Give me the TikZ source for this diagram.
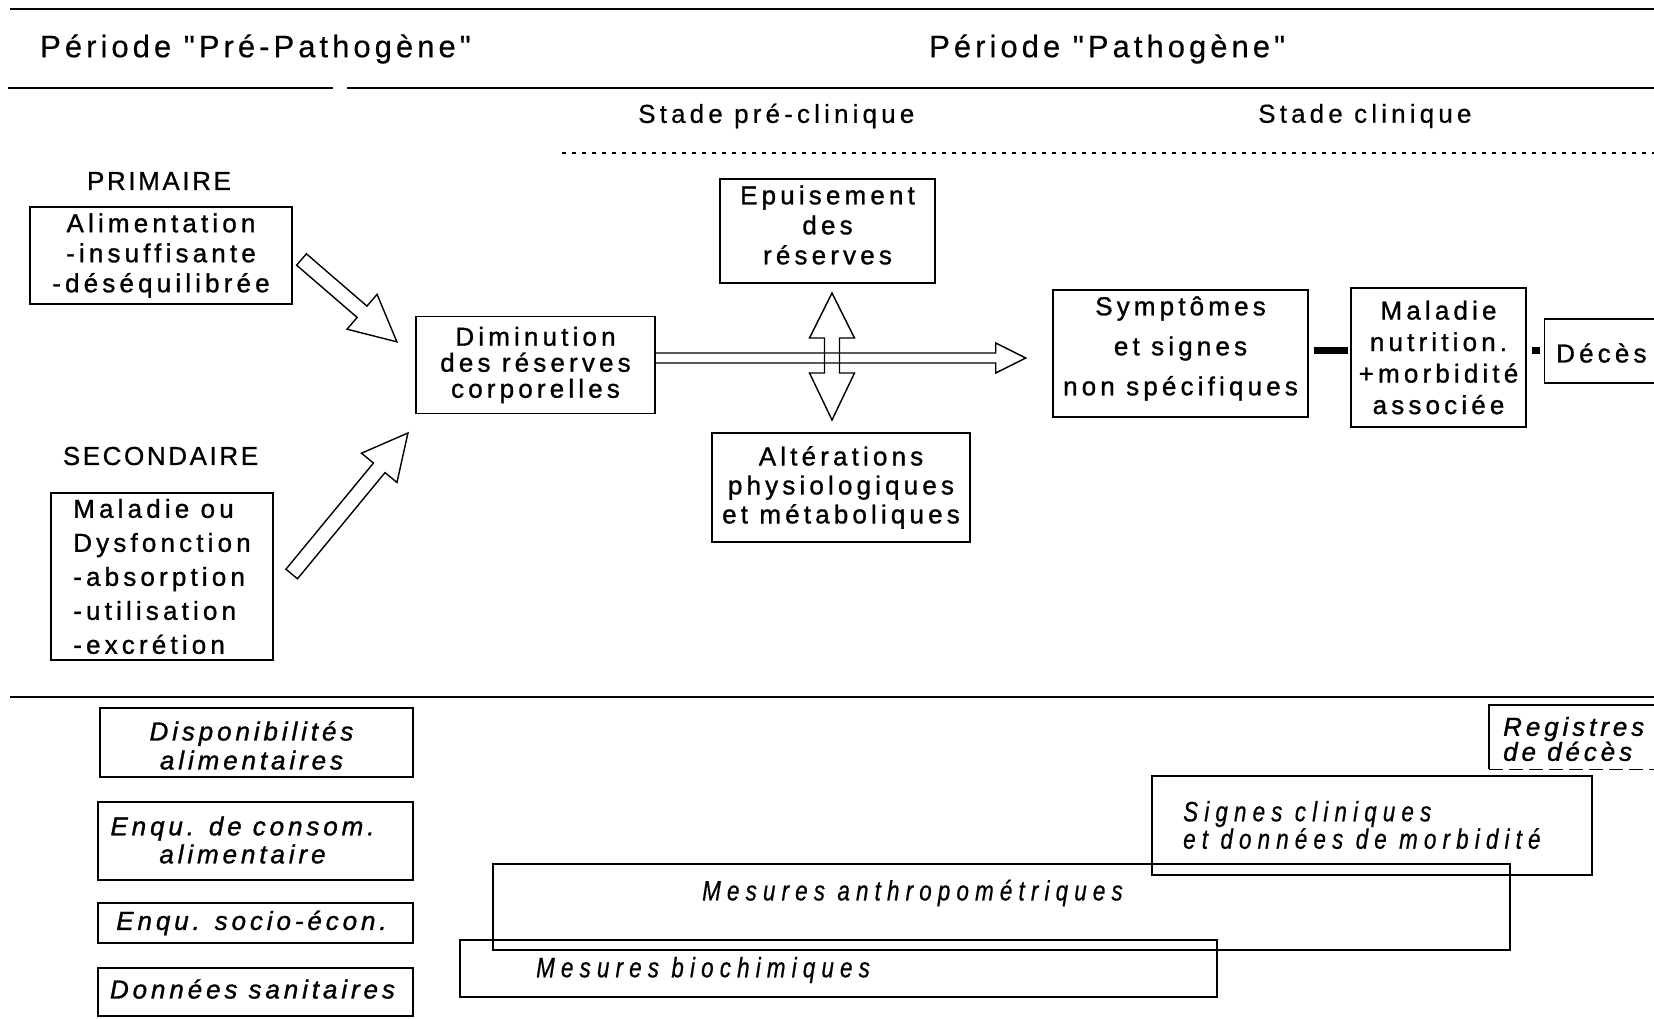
\documentclass[tikz,border=0pt]{standalone}
\usepackage{fontspec}
\setmainfont{Liberation Sans}
\newfontfamily\bxf[LetterSpace=16, FakeBold=1.1]{Liberation Sans}
\newfontfamily\itf[LetterSpace=15, FakeBold=1.2]{Liberation Sans}
\newfontfamily\capf[LetterSpace=10, FakeBold=0.8]{Liberation Sans}
\newfontfamily\hdf[LetterSpace=13, FakeBold=0.4]{Liberation Sans}
\newfontfamily\stf[LetterSpace=16, FakeBold=0.5]{Liberation Sans}
\newfontfamily\cif[LetterSpace=22, FakeStretch=0.8, FakeBold=0.6]{Liberation Sans}
\usetikzlibrary{calc}
\begin{document}
\begin{tikzpicture}[x=1pt,y=-1pt,
  box/.style={draw, line width=1.4pt, inner sep=0pt, align=center},
  bt/.style={font=\bxf\fontsize{26}{#1}\selectfont, align=center},
  bt/.default=30,
  it/.style={font=\itf\itshape\fontsize{26}{#1}\selectfont, align=center},
  it/.default=30,
  ci/.style={font=\cif\itshape\fontsize{28}{#1}\selectfont, inner sep=0pt},
  ci/.default=26,
  hd/.style={font=\hdf\fontsize{31}{36}\selectfont, inner sep=0pt},
  st/.style={font=\stf\fontsize{26}{30}\selectfont, inner sep=0pt},
  capt/.style={font=\capf\fontsize{26}{30}\selectfont, inner sep=0pt},
  hline/.style={line width=2pt},
  dotl/.style={line width=1.3pt, dash pattern=on 4pt off 6pt},
  blk/.style={line width=1.4pt, line join=miter},
  bar/.style={line width=7pt}]
\useasboundingbox (0,0) rectangle (1654,1018);
\fill[white] (0,0) rectangle (1654,1018);
\clip (0,0) rectangle (1654,1018);

% header lines and titles
\draw[hline] (10,9) -- (1654,9);
\node[hd, anchor=west] (hdpre) at (40,49) {Période "Pré-Pathogène"};
\node[hd, anchor=west] (hdpath) at (929,49) {Période "Pathogène"};
\draw[hline] (8,88) -- (333,88);
\draw[hline] (347,88) -- (1654,88);
\node[st, anchor=west] (stpre) at (638,116) {Stade pré-clinique};
\node[st, anchor=west] (stcli) at (1258,116) {Stade clinique};
\draw[dotl] (562,153) -- (1654,153);

% causes
\node[capt] (prim) at (159,181) {PRIMAIRE};
\node[box, bt, minimum width=262, minimum height=97] (alim) at (161,255.5)
  {Alimentation\\-insuffisante\\-déséquilibrée};
\node[capt] (second) at (160.5,456) {SECONDAIRE};
\node[box, bt=34, align=left, minimum width=222, minimum height=167] (malou) at (162,576.5)
  {Maladie ou\\Dysfonction\\-absorption\\-utilisation\\-excrétion};

\node[box, bt=26, minimum width=239, minimum height=97] (dimin) at (535.5,365)
  {Diminution\\des réserves\\corporelles};
\node[box, minimum width=215, minimum height=104] (epuis) at (827.5,231) {};
\node[bt=30, inner sep=0pt] (epuistxt) at ($(epuis)+(0,-6)$) {Epuisement\\des\\réserves};
\node[box, bt=29, minimum width=258, minimum height=109] (alter) at (841,487.5)
  {Altérations\\physiologiques\\et métaboliques};
\node[box, minimum width=255, minimum height=127] (sympt) at (1180.5,353.5) {};
\node[bt=40, inner sep=0pt] (sympttxt) at ($(sympt)+(0,-5)$) {Symptômes\\et signes\\non spécifiques};
\node[box, bt=31.5, minimum width=175, minimum height=139] (malnut) at (1438.5,357.5)
  {Maladie\\nutrition.\\+morbidité\\associée};
\node[box, minimum width=170, minimum height=64, anchor=west] (deces) at (1544,351) {};
\node[bt, anchor=west, inner sep=0pt] (decestxt) at (1556,353) {Décès};

% block arrows
\coordinate (aAs) at (301.5,259.5);
\begin{scope}[shift={(aAs)}, rotate=-40.8]
  \draw[blk] (0,-7.5) -- (80,-7.5) -- (80,-23) -- (126,0) -- (80,23) -- (80,7.5) -- (0,7.5) -- cycle;
\end{scope}
\coordinate (aBs) at (291.7,574);
\begin{scope}[shift={(aBs)}, rotate=50.5]
  \draw[blk] (0,-7.5) -- (137.6,-7.5) -- (137.6,-23) -- (182.8,0) -- (137.6,23) -- (137.6,7.5) -- (0,7.5) -- cycle;
\end{scope}
\draw[blk] ($(dimin.east)+(0,-12)$) -- ++(340,0) -- ++(0,-10) -- ++(30,15) -- ++(-30,15) -- ++(0,-10) -- ($(dimin.east)+(0,-2)$);
\coordinate (vc) at (832,355.5);
\begin{scope}[shift={(vc)}]
  \draw[blk] (0,-62.5) -- (22.5,-17.5) -- (7.5,-17.5) -- (7.5,17.5) -- (22.5,17.5) -- (0,64.5)
    -- (-22.5,17.5) -- (-7.5,17.5) -- (-7.5,-17.5) -- (-22.5,-17.5) -- cycle;
\end{scope}
\coordinate (barY) at (0,350);
\draw[bar, shorten <=5pt, shorten >=2pt] (sympt.east |- barY) -- (malnut.west |- barY);
\draw[bar, shorten <=5pt, shorten >=4pt] (malnut.east |- barY) -- (deces.west |- barY);

% lower part
\draw[hline] (10,697) -- (1654,697);
\node[box, minimum width=313, minimum height=69] (dispo) at (256.5,742.5) {};
\node[it=29, inner sep=0pt] (dispotxt) at ($(dispo)+(-5,3)$) {Disponibilités\\alimentaires};
\node[box, minimum width=315, minimum height=78] (consom) at (255.5,841) {};
\node[it=28, inner sep=0pt] (consomtxt) at ($(consom)+(-13,-1)$) {Enqu. de consom.\\alimentaire};
\node[box, minimum width=315, minimum height=40] (socio) at (255.5,923) {};
\node[it, inner sep=0pt] (sociotxt) at ($(socio)+(-4,0)$) {Enqu. socio-écon.};
\node[box, minimum width=315, minimum height=48] (sanit) at (255.5,992) {};
\node[it, inner sep=0pt] (sanittxt) at ($(sanit)+(-3,-3)$) {Données sanitaires};

\node[minimum width=200, minimum height=64, anchor=west, inner sep=0pt] (registres) at (1489,737) {};
\draw[line width=1.4pt] (registres.north east) -- (registres.north west) -- (registres.south west);
\draw[line width=1.4pt, dash pattern=on 14pt off 6pt] (registres.south west) -- (registres.south east);
\node[it=25, anchor=west, align=left, inner sep=0pt] (regtxt) at (1503,739) {Registres\\de décès};

\node[box, minimum width=440, minimum height=99] (signes) at (1372,825.5) {};
\node[ci, anchor=west, align=left] (signestxt) at (1183,825) {Signes cliniques\\et données de morbidité};
\node[box, minimum width=1017, minimum height=86] (anthro) at (1001.5,907) {};
\node[ci, anchor=west] (anthrotxt) at (702,893) {Mesures anthropométriques};
\node[box, minimum width=757, minimum height=57] (biochim) at (838.5,968.5) {};
\node[ci, anchor=west] (biotxt) at (536,970) {Mesures biochimiques};
\end{tikzpicture}
\end{document}
